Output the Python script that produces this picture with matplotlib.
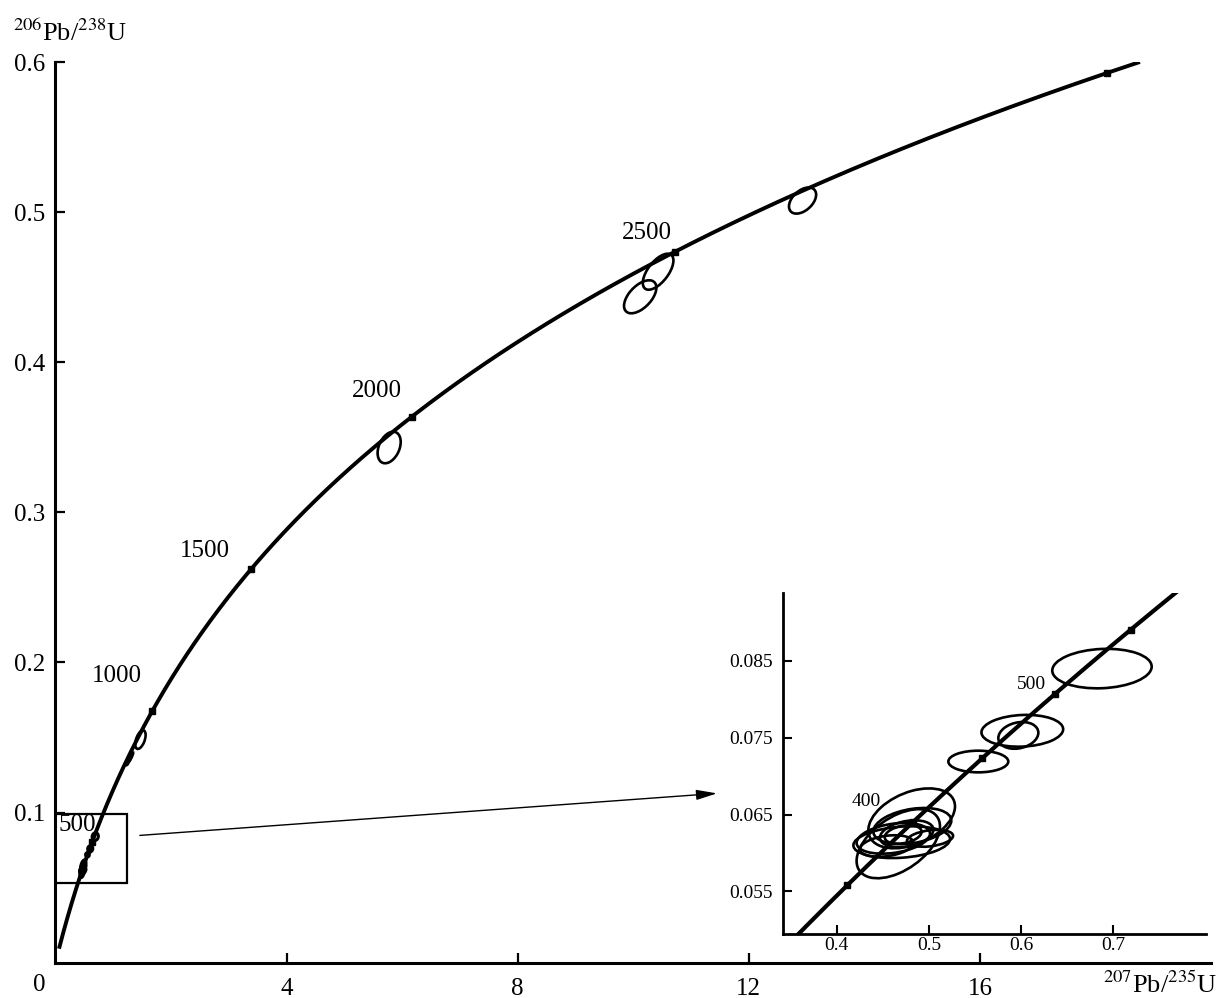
import numpy as np
import matplotlib
matplotlib.use('Agg')
import matplotlib.pyplot as plt
from matplotlib.patches import Ellipse, Rectangle

plt.rcParams['font.family'] = ['Liberation Serif', 'DejaVu Serif']
plt.rcParams['mathtext.fontset'] = 'stix'

# decay constants, 1/yr
lam238 = 1.55125e-10
lam235 = 9.8485e-10

# concordia age span and age marks, Ma
main_span = (60, 3030)
main_marks = [500, 1000, 1500, 2000, 2500, 3000]
inset_span = (300, 580)
inset_marks = [350, 400, 450, 500, 550]

# age labels on the main plot
main_lbl = ['500', '1000', '1500', '2000', '2500']
main_lbl_x = [0.38, 1.06, 2.59, 5.56, 10.23]
main_lbl_y = [0.0915, 0.191, 0.274, 0.381, 0.486]

# old grains: 207Pb/235U, half width, 206Pb/238U, half height, rho
old_x = [1.47, 1.27, 1.31, 5.775, 10.12, 10.43, 12.93]
old_sx = [0.09, 0.035, 0.035, 0.2, 0.28, 0.265, 0.235]
old_y = [0.1486, 0.1345, 0.1370, 0.3432, 0.4436, 0.4603, 0.5077]
old_sy = [0.0062, 0.0028, 0.0028, 0.0105, 0.011, 0.012, 0.0087]
old_rho = [0.5, 0.95, 0.95, 0.35, 0.55, 0.62, 0.45]

# young grains (inset)
yng_x = [0.6877, 0.6013, 0.597, 0.5536, 0.4813, 0.4668, 0.4705, 0.482, 0.4614,
         0.4759, 0.4721, 0.4542, 0.5012]
yng_sx = [0.0539, 0.0443, 0.0217, 0.0325, 0.047, 0.0452, 0.0524, 0.0423, 0.0398,
          0.029, 0.020, 0.029, 0.025]
yng_y = [0.0840, 0.0759, 0.0753, 0.0719, 0.0645, 0.0612, 0.0614, 0.0635, 0.0619,
         0.0625, 0.0624, 0.0609, 0.0619]
yng_sy = [0.00257, 0.00207, 0.00174, 0.00141, 0.0039, 0.0045, 0.00207, 0.00235,
          0.0020, 0.00174, 0.0012, 0.0014, 0.0011]
yng_rho = [0.1, 0.1, 0.2, 0.0, 0.4, 0.5, 0.2, 0.3, 0.3, 0.3, 0.3, 0.3, 0.3]


def concordia(t):
    t = np.asarray(t, dtype=float) * 1e6
    return np.exp(lam235 * t) - 1, np.exp(lam238 * t) - 1


def add_ellipse(ax, x, sx, y, sy, r, lw):
    cov = np.array([[sx * sx, r * sx * sy], [r * sx * sy, sy * sy]])
    vals, vecs = np.linalg.eigh(cov)
    ang = np.degrees(np.arctan2(vecs[1, 1], vecs[0, 1]))
    ax.add_patch(Ellipse((x, y), 2 * np.sqrt(vals[1]), 2 * np.sqrt(vals[0]),
                         angle=ang, fill=False, lw=lw, ec='black'))


fig = plt.figure(figsize=(12.21, 9.98), dpi=100)

# main diagram
ax = fig.add_axes([0.04545, 0.03537, 0.9464, 0.9025])
ax.set_xlim(0, 20)
ax.set_ylim(0, 0.6)
for s in ['top', 'right']:
    ax.spines[s].set_visible(False)
for s in ['left', 'bottom']:
    ax.spines[s].set_linewidth(2.2)
ax.set_xticks([4, 8, 12, 16])
ax.set_xticklabels(['4', '8', '12', '16'])
ax.set_yticks([0.1, 0.2, 0.3, 0.4, 0.5, 0.6])
ax.set_yticklabels(['0.1', '0.2', '0.3', '0.4', '0.5', '0.6'])
ax.tick_params(direction='in', length=7.2, width=1.6, labelsize=18)
ax.tick_params(axis='x', pad=11)
ax.tick_params(axis='y', pad=7.5)
ax.annotate('0', xy=(0, 0), xytext=(-11.5, -16), textcoords='offset points',
            ha='center', va='center', fontsize=18)

ages = np.linspace(main_span[0], main_span[1], 600)
cx, cy = concordia(ages)
ax.plot(cx, cy, color='black', lw=2.8, solid_capstyle='butt')
mx, my = concordia(main_marks)
ax.plot(mx, my, ls='', marker='s', ms=4.5, color='black')

for lx, ly, t in zip(main_lbl_x, main_lbl_y, main_lbl):
    ax.text(lx, ly, t, ha='center', va='center', fontsize=18)

for i in range(len(old_x)):
    add_ellipse(ax, old_x[i], old_sx[i], old_y[i], old_sy[i], old_rho[i], 1.9)
for i in range(len(yng_x)):
    add_ellipse(ax, yng_x[i], yng_sx[i], yng_y[i], yng_sy[i], yng_rho[i], 2.2)

ax.add_patch(Rectangle((0, 0.0531), 1.242, 0.0458, fill=False, lw=1.6, ec='black'))
ax.annotate('', xy=(11.45, 0.1128), xytext=(1.46, 0.0848),
            arrowprops=dict(arrowstyle='-|>,head_length=0.9,head_width=0.22',
                            lw=1.0, color='black', mutation_scale=14,
                            shrinkA=0, shrinkB=0))

fig.text(13 / 1221, 1 - 41 / 998, r'$^{206}$Pb/$^{238}$U', fontsize=19,
         ha='left', va='baseline')
fig.text(1217 / 1221, 5 / 998, r'$^{207}$Pb/$^{235}$U', fontsize=19,
         ha='right', va='baseline')

# inset
ins = fig.add_axes([0.6410, 0.0638, 0.3467, 0.3417])
ins.patch.set_alpha(0)
ins.set_xlim(0.3414, 0.8005)
ins.set_ylim(0.0494, 0.0938)
for s in ['top', 'right']:
    ins.spines[s].set_visible(False)
for s in ['left', 'bottom']:
    ins.spines[s].set_linewidth(2.0)
ins.set_xticks([0.4, 0.5, 0.6, 0.7])
ins.set_xticklabels(['0.4', '0.5', '0.6', '0.7'])
ins.set_yticks([0.055, 0.065, 0.075, 0.085])
ins.set_yticklabels(['0.055', '0.065', '0.075', '0.085'])
ins.tick_params(direction='in', length=6.7, width=1.5, labelsize=14)
ins.tick_params(axis='x', pad=2)
ins.tick_params(axis='y', pad=7)

ages_i = np.linspace(inset_span[0], inset_span[1], 300)
ix, iy = concordia(ages_i)
ins.plot(ix, iy, color='black', lw=3.0, solid_capstyle='butt')
kx, ky = concordia(inset_marks)
ins.plot(kx, ky, ls='', marker='s', ms=4.5, color='black')
for i in range(len(yng_x)):
    add_ellipse(ins, yng_x[i], yng_sx[i], yng_y[i], yng_sy[i], yng_rho[i], 1.9)
ins.text(0.4325, 0.0667, '400', ha='center', va='center', fontsize=14)
ins.text(0.6117, 0.0819, '500', ha='center', va='center', fontsize=14)

fig.savefig('out.png', dpi=100)
